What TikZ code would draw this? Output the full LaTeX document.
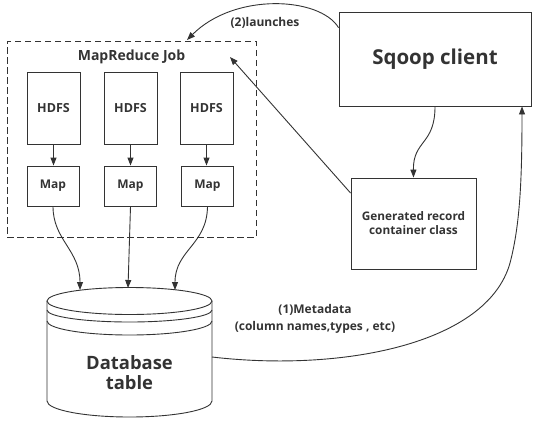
\documentclass[tikz,border=0pt]{standalone}
\usepackage{fontspec}
\setmainfont{Open Sans}
\usetikzlibrary{arrows.meta}
\definecolor{ink}{HTML}{333333}
\tikzset{
  box/.style={draw=ink, line width=0.9pt, rectangle, inner sep=0pt, text=ink, font=\bfseries},
  conn/.style={draw=ink, line width=0.9pt, -{Triangle[length=8pt,width=6pt]}},
  lbl/.style={text=ink, font=\bfseries\fontsize{12}{15}\selectfont, align=center, inner sep=0pt},
}
\begin{document}
\begin{tikzpicture}[x=1pt,y=-1pt]
\useasboundingbox (0,0) rectangle (534,423);
% MapReduce job frame
\node[draw=ink, line width=0.9pt, dash pattern=on 6.5pt off 3.5pt, minimum width=249pt, minimum height=196pt, inner sep=0pt] (job) at (131.5,139) {};
\node[lbl, font=\bfseries\fontsize{14}{17}\selectfont] (jobtitle) at (131.5,57) {MapReduce Job};
% HDFS boxes
\node[box, minimum width=53pt, minimum height=72pt, font=\bfseries\fontsize{12.5}{15}\selectfont] (h1) at (53.5,108) {HDFS};
\node[box, minimum width=53pt, minimum height=72pt, font=\bfseries\fontsize{12.5}{15}\selectfont] (h2) at (130.5,108) {HDFS};
\node[box, minimum width=53pt, minimum height=72pt, font=\bfseries\fontsize{12.5}{15}\selectfont] (h3) at (206.5,108) {HDFS};
% Map boxes
\node[box, minimum width=52pt, minimum height=40pt, font=\bfseries\fontsize{12}{15}\selectfont] (m1) at (53,186) {Map};
\node[box, minimum width=52pt, minimum height=40pt, font=\bfseries\fontsize{12}{15}\selectfont] (m2) at (130.5,186) {Map};
\node[box, minimum width=52pt, minimum height=40pt, font=\bfseries\fontsize{12}{15}\selectfont] (m3) at (207.5,186) {Map};
\draw[conn] (h1.south) -- (h1.south |- m1.north);
\draw[conn] (h2.south) -- (h2.south |- m2.north);
\draw[conn] (h3.south) -- (h3.south |- m3.north);
% Sqoop client
\node[box, minimum width=192pt, minimum height=94pt, font=\bfseries\fontsize{20.5}{24}\selectfont] (sqoop) at (435,59) {Sqoop client};
% Generated record
\node[box, minimum width=125pt, minimum height=91pt, align=center, font=\bfseries\fontsize{11.8}{14}\selectfont] (gen) at (413.5,223.5) {Generated record\\container class};
% Database cylinder
\draw[ink, line width=0.9pt, fill=white] (129.5,301) ellipse [x radius=82.5pt, y radius=13.5pt];
\draw[ink, line width=0.9pt] (47,310) arc[start angle=180, end angle=360, x radius=82.5pt, y radius=12pt];
\draw[ink, line width=0.9pt] (47,321) arc[start angle=180, end angle=360, x radius=82.5pt, y radius=14pt];
\draw[ink, line width=0.9pt] (47,301) -- (47,401) arc[start angle=180, end angle=360, x radius=82.5pt, y radius=16pt] -- (212,301);
\node[lbl, font=\bfseries\fontsize{18.4}{20}\selectfont] (db) at (129.5,373) {Database\\table};
\coordinate (dbA) at (80,290);
\coordinate (dbB) at (128,288);
\coordinate (dbC) at (175,290);
\coordinate (dbR) at (212,357);
% Map -> DB
\draw[conn] (m1.south) .. controls (53,240) and (80,250) .. (dbA);
\draw[conn] (m2.south) -- (dbB);
\draw[conn] (m3.south) .. controls (207,245) and (175,250) .. (dbC);
% Sqoop -> gen
\draw[conn] (sqoop.south) .. controls (435,145) and (413,140) .. (gen.north);
% gen -> job
\coordinate (jobpt) at (230,57);
\draw[conn] (gen.west |- 0,193) -- (jobpt);
% launches
\coordinate (jobtop) at (187,40);
\draw[conn] (sqoop.162) .. controls (320,-3) and (235,-8) .. (jobtop);
\node[lbl] (launch) at (265,23) {(2)launches};
% metadata
\coordinate (mid) at (510,263);
\draw[conn] (dbR) .. controls (340,372) and (487,345) .. (mid) .. controls (520,225) and (522,180) .. (sqoop.south -| 522,0);
\node[lbl, font=\bfseries\fontsize{12}{17}\selectfont] (meta) at (315,318.5) {(1)Metadata\\(column names,types , etc)};
\end{tikzpicture}
\end{document}
